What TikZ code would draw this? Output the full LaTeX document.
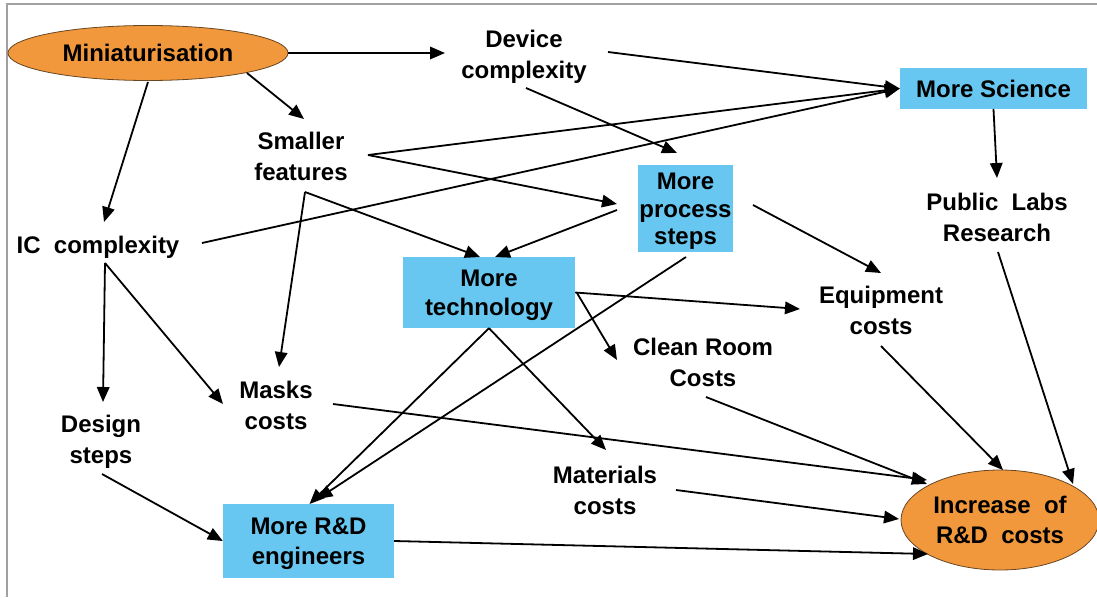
\documentclass[tikz,border=0pt]{standalone}
\usepackage{fontspec}
\setmainfont{Liberation Sans}
\usetikzlibrary{shapes.geometric,arrows.meta,calc}
\definecolor{hubfill}{RGB}{242,152,60}
\definecolor{hubline}{RGB}{105,70,35}
\definecolor{boxfill}{RGB}{104,199,240}
\definecolor{framegray}{RGB}{160,160,160}
% uniform line height so that every label is centred on its cap height
\newcommand\sstrut{\rule[-4.8pt]{0pt}{26.8pt}}

\begin{document}
\begin{tikzpicture}[x=1pt,y=-1pt,
  lbl/.style={font=\fontsize{24}{31}\selectfont\bfseries, align=center,
              inner xsep=12pt, inner ysep=8pt},
  hub/.style={ellipse, fill=hubfill, draw=hubline, line width=0.8pt,
              inner sep=0pt, align=center,
              font=\fontsize{24}{30}\selectfont\bfseries},
  bluebox/.style={rectangle, fill=boxfill, inner sep=0pt, align=center,
              font=\fontsize{24}{29.5}\selectfont\bfseries},
  link/.style={line width=1.8pt, -{Triangle[length=15pt,width=12.5pt]}}
]
\useasboundingbox (0,0) rectangle (1097,597);

% page frame (top and left edges)
\draw[framegray, line width=2pt] (7,597) -- (7,4) -- (1097,4);

% ---- nodes ----
\node[hub, minimum width=280, minimum height=55] (mini) at (148,53)
  {\sstrut Miniaturisation};
\node[lbl] (dev) at (524,54) {\sstrut Device\\\sstrut complexity};
\node[bluebox, minimum width=187, minimum height=41] (sci) at (993.5,88.5)
  {\sstrut More Science};
\node[lbl] (small) at (301,156.5) {\sstrut Smaller\\\sstrut features};
\node[bluebox, minimum width=95, minimum height=87,
      font=\fontsize{24}{27.5}\selectfont\bfseries] (proc) at (685.5,208.5)
  {\sstrut More\\\sstrut process\\\sstrut steps};
\node[lbl] (pub) at (997,217) {\sstrut Public\ \ Labs\\\sstrut Research};
\node[lbl] (ic) at (98,244.5) {\sstrut IC\ \ complexity};
\node[bluebox, minimum width=172, minimum height=71] (tech) at (489,292.5)
  {\sstrut More\\\sstrut technology};
\node[lbl] (equip) at (881,310) {\sstrut Equipment\\\sstrut costs};
\node[lbl] (clean) at (703,362) {\sstrut Clean Room\\\sstrut Costs};
\node[lbl] (masks) at (276,405.5) {\sstrut Masks\\\sstrut costs};
\node[lbl] (design) at (101,439) {\sstrut Design\\\sstrut steps};
\node[lbl] (mat) at (605,490.5) {\sstrut Materials\\\sstrut costs};
\node[bluebox, minimum width=171, minimum height=74] (rnd) at (308.5,541)
  {\sstrut More R\&D\\\sstrut engineers};
\node[hub, minimum width=198, minimum height=100] (inc) at (1000,520)
  {\sstrut Increase\ \ of\\\sstrut R\&D\ \ costs};

% ---- connectors ----
\draw[link] (mini.east) -- ($(dev)+(-79,-1)$);
\draw[link] ($(mini)+(99,20)$) -- ($(small)+(3,-37.5)$);
\draw[link] ($(mini)+(0,29)$) -- ($(ic)+(6,-22.5)$);

\draw[link] ($(dev)+(84,-2)$) -- (sci.west);
\draw[link] ($(dev)+(2,34)$) -- ($(proc)+(-8.5,-55.5)$);

\draw[link] ($(small)+(67,-1.5)$) -- (sci.west);
\draw[link] ($(small)+(67,-1.5)$) -- ($(proc)+(-68.5,-4.5)$);
\draw[link] ($(small)+(4,35.5)$) -- ($(tech)+(-9,-35.5)$);
\draw[link] ($(small)+(4,35.5)$) -- ($(masks)+(3,-38.5)$);

\draw[link] ($(ic)+(104,-1.5)$) -- (sci.west);
\draw[link] ($(ic)+(7,18.5)$) -- ($(design)+(2,-37)$);
\draw[link] ($(ic)+(7,18.5)$) -- ($(masks)+(-53,-1.5)$);

\draw[link] ($(proc)+(-68.5,1.5)$) -- ($(tech)+(6,-35.5)$);
\draw[link] ($(proc)+(67.5,-3.5)$) -- ($(equip)+(0,-37)$);
\draw[link] ($(proc)+(0.5,48.5)$) -- ($(rnd)+(9,-42)$);

\draw[link] (sci.south) -- ($(pub)+(0,-39)$);
\draw[link] ($(pub)+(1,35)$) -- ($(inc)+(73,-36)$);

\draw[link] (tech.east) -- ($(equip)+(-81,-1)$);
\draw[link] ($(tech)+(88,0.5)$) -- ($(clean)+(-86,-2)$);
\draw[link] (tech.south) -- ($(rnd)+(1,-37)$);
\draw[link] (tech.south) -- ($(mat)+(1,-40.5)$);

\draw[link] ($(masks)+(57,-1.5)$) -- ($(inc)+(-73,-40)$);
\draw[link] ($(clean)+(3,35)$) -- ($(inc)+(-73,-36)$);
\draw[link] ($(equip)+(0,36)$) -- ($(inc)+(3,-50)$);
\draw[link] ($(mat)+(71,-0.5)$) -- ($(inc)+(-101,-1)$);

\draw[link] ($(design)+(1,35)$) -- (rnd.west);
\draw[link] (rnd.east) -- ($(inc)+(-72,34)$);
\end{tikzpicture}
\end{document}
